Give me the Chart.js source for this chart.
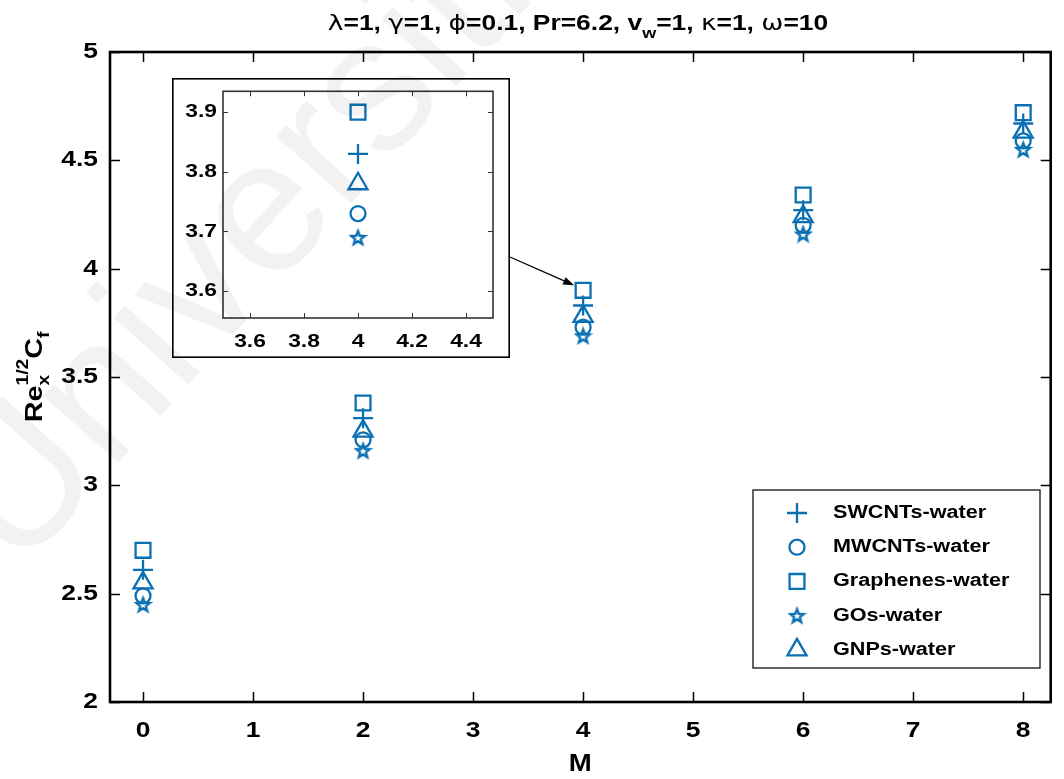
<!DOCTYPE html>
<html>
<head>
<meta charset="utf-8">
<script src="https://cdn.jsdelivr.net/npm/chart.js@4.4.0/dist/chart.umd.min.js"></script>
<style>
  body { margin: 0; background: #fff; }
  #wrap { position: relative; width: 1064px; height: 779px; overflow: hidden; }
  #wrap canvas { position: absolute; }
  #mark { pointer-events: none; }
</style>
</head>
<body>
<div id="wrap">
  <canvas id="main" width="1064" height="779" style="left:0;top:0"></canvas>
  <canvas id="inset" width="338" height="280" style="left:172px;top:78px"></canvas>
  <canvas id="mark" width="1064" height="779" style="left:0;top:0"></canvas>
</div>
<script>
// skin friction values Re_x^(1/2) Cf against M
const M      = [0, 2, 4, 6, 8];
const swcnts = [2.61, 3.31, 3.83, 4.27, 4.67];
const mwcnts = [2.49, 3.21, 3.73, 4.20, 4.59];
const graph  = [2.70, 3.38, 3.90, 4.34, 4.72];
const gos    = [2.45, 3.16, 3.69, 4.16, 4.55];
const gnps   = [2.55, 3.25, 3.78, 4.24, 4.63];
const names  = ['SWCNTs-water', 'MWCNTs-water', 'Graphenes-water', 'GOs-water', 'GNPs-water'];

const xTicks = [0, 1, 2, 3, 4, 5, 6, 7, 8];
const yTicks = [2, 2.5, 3, 3.5, 4, 4.5, 5];
const insetXTicks = [3.6, 3.8, 4, 4.2, 4.4];
const insetYTicks = [3.6, 3.7, 3.8, 3.9];
const zoomAt = 4;   // M value shown in the inset

const BLUE = '#0a6fb3';
const SX = 1.2;     // horizontal stretch of all text
const FONT = '"Liberation Sans", Arial, sans-serif';
const insetBox = { left: 172, top: 78, w: 338, h: 280 };

function pentagram(size, color, lw) {
  const c = document.createElement('canvas');
  c.width = c.height = size;
  const g = c.getContext('2d');
  const R = size / 2 - lw, r = R * 0.42, cx = size / 2, cy = size / 2 + R * 0.1;
  g.beginPath();
  for (let i = 0; i < 10; i++) {
    const a = -Math.PI / 2 + i * Math.PI / 5, rr = i % 2 ? r : R;
    g.lineTo(cx + rr * Math.cos(a), cy + rr * Math.sin(a));
  }
  g.closePath();
  g.strokeStyle = color; g.lineWidth = lw; g.stroke();
  return c;
}
const starImg = pentagram(19, BLUE, 2.3);

const styles = [
  { pointStyle: 'cross', radius: 10 },
  { pointStyle: 'circle', radius: 7.5 },
  { pointStyle: 'rect', radius: 10.5 },
  { pointStyle: starImg, radius: 9 },
  { pointStyle: 'triangle', radius: 11 }
];
const series = [swcnts, mwcnts, graph, gos, gnps];

function makeDatasets(filter) {
  return series.map((vals, i) => ({
    label: names[i],
    data: M.map((m, j) => ({ x: m, y: vals[j] })).filter(p => filter(p.x)),
    pointStyle: styles[i].pointStyle,
    pointRadius: styles[i].radius,
    borderColor: BLUE,
    backgroundColor: 'rgba(0,0,0,0)',
    pointBorderWidth: 2.3,
    showLine: false
  }));
}

// text with optional sub/superscripts; parts = [text, font, dy, noAdvance]
function rich(ctx, parts, x, y, align, baseline) {
  let w = 0;
  parts.forEach(p => { ctx.font = p[1]; if (!p[3]) w += ctx.measureText(p[0]).width; });
  let x0 = align === 'center' ? -w / 2 : align === 'right' ? -w : 0;
  ctx.save();
  ctx.translate(x, y);
  ctx.scale(SX, 1);
  ctx.textAlign = 'left';
  ctx.textBaseline = baseline || 'alphabetic';
  ctx.fillStyle = '#000';
  parts.forEach(p => {
    ctx.font = p[1];
    ctx.fillText(p[0], x0, p[2] || 0);
    if (!p[3]) x0 += ctx.measureText(p[0]).width;
  });
  ctx.restore();
}

const mainAxes = {
  id: 'mainAxes',
  afterDatasetsDraw(chart) {
    const { ctx, chartArea: a, scales } = chart;
    const xs = scales.x, ys = scales.y;
    ctx.save();
    ctx.strokeStyle = '#000';
    ctx.lineWidth = 1.5;
    ctx.beginPath();
    xTicks.forEach(t => {
      const px = Math.round(xs.getPixelForValue(t)) + 0.5;
      ctx.moveTo(px, a.bottom); ctx.lineTo(px, a.bottom - 10);
      ctx.moveTo(px, a.top); ctx.lineTo(px, a.top + 10);
    });
    yTicks.forEach(t => {
      const py = Math.round(ys.getPixelForValue(t)) + 0.5;
      ctx.moveTo(a.left, py); ctx.lineTo(a.left + 10, py);
      ctx.moveTo(a.right, py); ctx.lineTo(a.right - 10, py);
    });
    ctx.stroke();
    ctx.lineWidth = 2.6;
    ctx.strokeRect(a.left, a.top, a.right - a.left, a.bottom - a.top);

    const tf = 'bold 22px ' + FONT;
    xTicks.forEach(t => rich(ctx, [[String(t), tf]], xs.getPixelForValue(t), 731, 'center', 'middle'));
    yTicks.forEach(t => rich(ctx, [[String(t), tf]], 98, ys.getPixelForValue(t), 'right', 'middle'));

    // title
    const b = 'bold 22px ' + FONT, g = '22px "DejaVu Sans", sans-serif', s = 'bold 15px ' + FONT;
    rich(ctx, [
      ['λ', g], ['=1, ', b], ['γ', g], ['=1, ', b], ['ϕ', g], ['=0.1, Pr=6.2, v', b],
      ['w', s, 8], ['=1, ', b], ['κ', g], ['=1, ', b], ['ω', g], ['=10', b]
    ], 578, 30, 'center');

    rich(ctx, [['M', 'bold 23px ' + FONT]], (a.left + a.right) / 2, 765, 'center', 'middle');

    // y axis label
    ctx.save();
    ctx.translate(42, 377);
    ctx.rotate(-Math.PI / 2);
    const L = 'bold 24px ' + FONT, l = 'bold 16px ' + FONT;
    rich(ctx, [['Re', L], ['x', l, 7, true], ['1/2', l, -14], ['C', L], ['f', l, 7]], 0, 0, 'center');
    ctx.restore();

    // arrow from the inset to the zoomed points
    const k = M.indexOf(zoomAt);
    const x1 = insetBox.left + insetBox.w, y1 = 257;
    const x2 = xs.getPixelForValue(zoomAt) - 9, y2 = ys.getPixelForValue(graph[k]) - 5;
    const ang = Math.atan2(y2 - y1, x2 - x1);
    ctx.lineWidth = 1.3;
    ctx.beginPath();
    ctx.moveTo(x1, y1);
    ctx.lineTo(x2 - 9 * Math.cos(ang), y2 - 9 * Math.sin(ang));
    ctx.stroke();
    ctx.beginPath();
    ctx.moveTo(x2, y2);
    ctx.lineTo(x2 - 11 * Math.cos(ang) + 4 * Math.sin(ang), y2 - 11 * Math.sin(ang) - 4 * Math.cos(ang));
    ctx.lineTo(x2 - 11 * Math.cos(ang) - 4 * Math.sin(ang), y2 - 11 * Math.sin(ang) + 4 * Math.cos(ang));
    ctx.closePath();
    ctx.fillStyle = '#000';
    ctx.fill();

    // legend
    const lx = 753, ly = 490, lw = 287, lh = 178;
    ctx.fillStyle = '#fff';
    ctx.fillRect(lx, ly, lw, lh);
    ctx.lineWidth = 1.3;
    ctx.strokeStyle = '#111';
    ctx.strokeRect(lx, ly, lw, lh);
    chart.data.datasets.forEach((ds, i) => {
      const cy = ly + 23 + i * 34.2;
      ctx.strokeStyle = BLUE;
      ctx.lineWidth = 2.3;
      Chart.helpers.drawPoint(ctx, { pointStyle: ds.pointStyle, radius: ds.pointRadius, rotation: 0, borderWidth: 2.3 }, lx + 44, cy);
      rich(ctx, [[ds.label, 'bold 18px ' + FONT]], lx + 80, cy, 'left', 'middle');
    });
    ctx.restore();
  }
};

const insetAxes = {
  id: 'insetAxes',
  beforeDraw(chart) {
    const ctx = chart.ctx;
    ctx.save();
    ctx.fillStyle = '#fff';
    ctx.fillRect(0, 0, chart.width, chart.height);
    ctx.restore();
  },
  afterDatasetsDraw(chart) {
    const { ctx, chartArea: a, scales } = chart;
    const xs = scales.x, ys = scales.y;
    ctx.save();
    ctx.strokeStyle = '#333';
    ctx.lineWidth = 1;
    ctx.beginPath();
    insetXTicks.forEach(t => {
      const px = Math.round(xs.getPixelForValue(t)) + 0.5;
      ctx.moveTo(px, a.bottom); ctx.lineTo(px, a.bottom - 5);
      ctx.moveTo(px, a.top); ctx.lineTo(px, a.top + 5);
    });
    insetYTicks.forEach(t => {
      const py = Math.round(ys.getPixelForValue(t)) + 0.5;
      ctx.moveTo(a.left, py); ctx.lineTo(a.left + 5, py);
      ctx.moveTo(a.right, py); ctx.lineTo(a.right - 5, py);
    });
    ctx.stroke();
    ctx.lineWidth = 1.6;
    ctx.strokeRect(a.left, a.top, a.right - a.left, a.bottom - a.top);
    ctx.strokeStyle = '#000';
    ctx.lineWidth = 1.6;
    ctx.strokeRect(0.8, 0.8, chart.width - 1.6, chart.height - 1.6);
    const tf = 'bold 19px ' + FONT;
    insetXTicks.forEach(t => rich(ctx, [[String(t), tf]], xs.getPixelForValue(t), 264, 'center', 'middle'));
    insetYTicks.forEach(t => rich(ctx, [[t.toFixed(1), tf]], 45, ys.getPixelForValue(t), 'right', 'middle'));
    ctx.restore();
  }
};

const baseOpts = (xmin, xmax, ymin, ymax, pad) => ({
  responsive: false,
  animation: false,
  events: [],
  layout: { padding: pad },
  plugins: { legend: { display: false }, tooltip: { enabled: false } },
  scales: {
    x: { type: 'linear', min: xmin, max: xmax, display: false },
    y: { type: 'linear', min: ymin, max: ymax, display: false }
  }
});

new Chart(document.getElementById('main'), {
  type: 'scatter',
  data: { datasets: makeDatasets(() => true) },
  options: baseOpts(-0.3, 8.25, 2, 5, { left: 110, top: 52, right: 4, bottom: 77 }),
  plugins: [mainAxes]
});

new Chart(document.getElementById('inset'), {
  type: 'scatter',
  data: { datasets: makeDatasets(x => x === zoomAt) },
  options: baseOpts(3.5, 4.5, 3.555, 3.935, { left: 51, top: 9, right: 17, bottom: 40 }),
  plugins: [insetAxes]
});

// faint watermark over the figure
const mk = document.getElementById('mark').getContext('2d');
mk.save();
mk.translate(18, 575);
mk.rotate(-0.84);
mk.font = '190px ' + FONT;
mk.fillStyle = 'rgba(0,0,0,0.05)';
mk.fillText('Universiti', 0, 0);
mk.restore();
</script>
</body>
</html>
